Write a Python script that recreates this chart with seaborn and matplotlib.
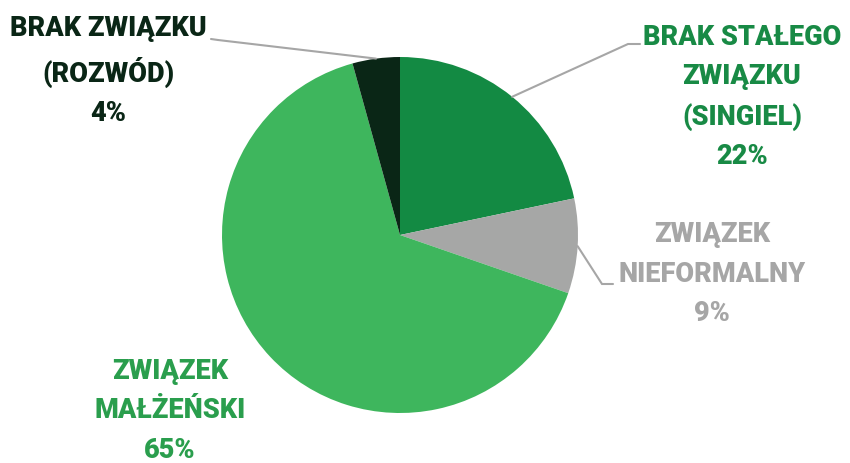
import numpy as np
import seaborn as sns
import matplotlib.pyplot as plt

# data
categories = ['BRAK STAŁEGO\nZWIĄZKU\n(SINGIEL)', 'ZWIĄZEK\nNIEFORMALNY',
              'ZWIĄZEK\nMAŁŻEŃSKI', 'BRAK ZWIĄZKU\n(ROZWÓD)']
shares = [21.7, 8.6, 65.4, 4.3]
slice_colors = ['#138A43', '#A6A7A6', '#3EB65D', '#0A2616']
text_colors = ['#188A45', '#A6A6A6', '#2A9E4D', '#0A2616']

sns.set_theme(style='white')
plt.rcParams['font.family'] = ['Roboto', 'DejaVu Sans']

W, H = 850, 463
fig = plt.figure(figsize=(W / 100, H / 100), dpi=100)
cx, cy, r = 400, 235, 178
ax = fig.add_axes([(cx - r) / W, (H - cy - r) / H, 2 * r / W, 2 * r / H])

wedges, _ = ax.pie(shares, colors=slice_colors, startangle=90, counterclock=False,
                   radius=1, wedgeprops=dict(linewidth=0))
ax.set_xlim(-1, 1)
ax.set_ylim(-1, 1)
ax.set_aspect('equal')


def px(x, y):
    return ((x - cx) / r, (cy - y) / r)


# label positions (pixel centres) and leader elbows
label_pos = [(742, 97), (712, 274), (170, 411), (108, 71)]
elbows = [[(640, 44), (628, 44)], [(613, 284), (602, 284)], None, [(211, 39), (218, 40)]]

for i, (lab, val) in enumerate(zip(categories, shares)):
    tx, ty = px(*label_pos[i])
    ax.text(tx, ty, f'{lab}\n{round(val)}%', ha='center', va='center', fontsize=19.5,
            fontweight='heavy', color=text_colors[i], linespacing=1.58,
            transform=ax.transData, clip_on=False)
    if elbows[i] is None:
        continue
    w = wedges[i]
    ang = np.deg2rad((w.theta1 + w.theta2) / 2)
    edge = (np.cos(ang), np.sin(ang))
    pts = [px(*p) for p in elbows[i]] + [edge]
    xs, ys = zip(*pts)
    ax.plot(xs, ys, color='#A6A6A6', lw=1.5, clip_on=False, solid_joinstyle='miter')

ax.axis('off')
fig.savefig('out.png', dpi=100, facecolor='white')
